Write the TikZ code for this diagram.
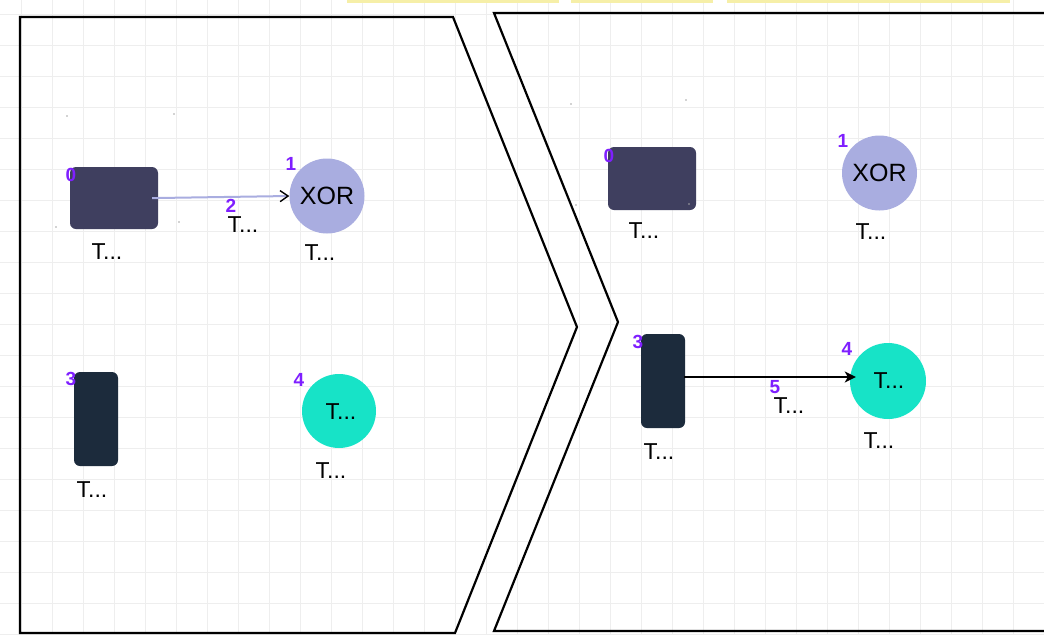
\documentclass[tikz,border=0pt]{standalone}
\usepackage{fontspec}
\setmainfont{Liberation Sans}
\usetikzlibrary{arrows.meta}

\definecolor{gridgray}{HTML}{EEEEEE}
\definecolor{slatebox}{HTML}{3F3F5F}
\definecolor{navybox}{HTML}{1C2B3C}
\definecolor{lavender}{HTML}{A9ADE0}
\definecolor{turq}{HTML}{17E3C7}
\definecolor{idpurple}{HTML}{7F1FFF}
\definecolor{hiyellow}{HTML}{F6EFA8}

\tikzset{
  lane/.style={draw=black, line width=2.2pt, line join=miter},
  boxnode/.style={rounded corners=6pt, inner sep=0pt, draw=none},
  disc/.style={circle, inner sep=0pt, minimum size=75pt, draw=none},
  caption/.style={inner sep=0pt, font=\fontsize{23}{24}\selectfont},
  idtag/.style={inner sep=0pt, text=idpurple, font=\fontsize{19}{20}\selectfont\bfseries},
  gatetext/.style={font=\fontsize{25}{26}\selectfont},
  speck/.style={fill=gray!70, draw=none},
}

\begin{document}
\begin{tikzpicture}[x=1pt,y=-1pt]
  \useasboundingbox (0,0) rectangle (1044,635);
  \clip (0,0) rectangle (1044,635);
  \fill[white] (0,0) rectangle (1044,635);

  % background grid
  \foreach \gx in {21,52,...,1044} \draw[gridgray, line width=0.9pt] (\gx,0) -- (\gx,635);
  \foreach \gy in {14.5,45.5,...,640} \draw[gridgray, line width=0.9pt] (0,\gy) -- (1044,\gy);

  % highlight strip along the top edge
  \fill[hiyellow] (347,0) rectangle (559,2.5);
  \fill[hiyellow] (571,0) rectangle (713,2.5);
  \fill[hiyellow] (727,0) rectangle (1010,2.5);

  % the two phase lanes
  \draw[lane] (20,17) -- (453,17) -- (577,327) -- (455,633) -- (20,633) -- cycle;
  \draw[lane] (494,13) -- (1060,13) -- (1060,631) -- (494,631) -- (618,322) -- cycle;

  % small handle specks
  \foreach \p in {(67,116),(174,114),(56,227),(179,222),(571,104),(686,100),(576,205)}
    \fill[speck] \p circle (0.9pt);

  % ---- left lane ----
  \node[boxnode, fill=slatebox, minimum width=88pt, minimum height=62pt] (a0) at (114,198) {};
  \node[disc, fill=lavender, gatetext] (a1) at (327,196) {XOR};
  \node[boxnode, fill=navybox, minimum width=44pt, minimum height=94pt] (a3) at (96,419) {};
  \node[disc, fill=turq, minimum size=74pt] (a4) at (339,411) {};
  \node[caption] (a4in) at (341,412) {T...};

  \node[idtag] (a0id) at (71,175) {0};
  \node[idtag] (a1id) at (291,164) {1};
  \node[idtag] (a3id) at (71,379) {3};
  \node[idtag] (a4id) at (299,380) {4};

  \node[caption] (a0cap) at (107,252) {T...};
  \node[caption] (a1cap) at (320,253) {T...};
  \node[caption] (a3cap) at (92,490) {T...};
  \node[caption] (a4cap) at (331,471) {T...};

  \draw[lavender, line width=2pt, shorten <=-6pt,
        -{Straight Barb[color=black, length=8pt, width=11pt, line width=1.4pt]}]
    (a0.east) -- (a1.west);
  \node[idtag] (e2id) at (231,206) {2};
  \node[caption] (e2cap) at (243,225) {T...};

  % ---- right lane ----
  \node[boxnode, fill=slatebox, minimum width=88pt, minimum height=63pt] (b0) at (652,178.5) {};
  \node[disc, fill=lavender, gatetext] (b1) at (879.5,173) {XOR};
  \node[boxnode, fill=navybox, minimum width=44pt, minimum height=94pt] (b3) at (663,381) {};
  \node[disc, fill=turq, minimum size=76pt] (b4) at (888,381) {};
  \node[caption] (b4in) at (889,381) {T...};

  \node[idtag] (b0id) at (609,156) {0};
  \node[idtag] (b1id) at (843,141) {1};
  \node[idtag] (b3id) at (638,342) {3};
  \node[idtag] (b4id) at (847,349) {4};

  \node[caption] (b0cap) at (644,231) {T...};
  \node[caption] (b1cap) at (871,232) {T...};
  \node[caption] (b3cap) at (659,452) {T...};
  \node[caption] (b4cap) at (879,441) {T...};

  \fill[speck] (689,204) circle (0.9pt);

  \draw[black, line width=2pt, shorten <=-1pt, shorten >=-6pt,
        -{Stealth[length=11pt, width=11pt, inset=3pt]}]
    (b3.east |- 0,377) -- (b4.west |- 0,377);
  \node[idtag] (e5id) at (775,387) {5};
  \node[caption] (e5cap) at (789,406) {T...};
\end{tikzpicture}
\end{document}
